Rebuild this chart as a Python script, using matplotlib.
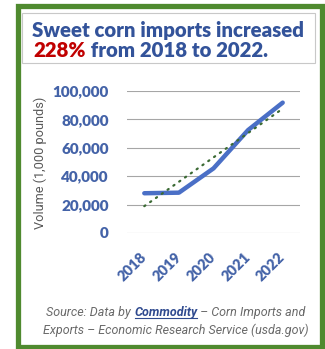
import matplotlib
matplotlib.use("Agg")
import matplotlib.pyplot as plt
import numpy as np
from matplotlib.patches import Rectangle
from matplotlib.lines import Line2D

years = ["2018", "2019", "2020", "2021", "2022"]
volumes = [28000, 28400, 45500, 72500, 91800]
yticks = [0, 20000, 40000, 60000, 80000, 100000]
ytick_labels = ["0", "20,000", "40,000", "60,000", "80,000", "100,000"]
title_line1 = "Sweet corn imports increased"
title_pct = "228%"
title_rest = " from 2018 to 2022."
ylabel = "Volume (1,000 pounds)"
src1a, src1b, src1c = "Source: Data by ", "Commodity", " – Corn Imports and"
src2 = "Exports – Economic Research Service (usda.gov)"

W, H = 325, 349
fig = plt.figure(figsize=(W / 100, H / 100), dpi=100)
fig.patch.set_facecolor("white")

def fx(px):
    return px / W

def fy(py):
    return 1 - py / H

# green frame
fig.patches.append(Rectangle((fx(18), fy(346.5)), fx(321.5) - fx(18), fy(5.5) - fy(346.5),
                             transform=fig.transFigure, fill=False,
                             edgecolor="#4f8a2f", linewidth=3.8, zorder=0))
# title box
fig.patches.append(Rectangle((fx(22), fy(63)), fx(315) - fx(22), fy(13) - fy(63),
                             transform=fig.transFigure, fill=False,
                             edgecolor="#c8c8c8", linewidth=0.8, zorder=0))

tblue = "#33539a"
tfont = "Lato"
tsize = 14.7
tw = "heavy"
fig.text(fx(32), fy(37), title_line1, fontsize=tsize, fontweight=tw, color=tblue,
         family=tfont, ha="left", va="baseline")
t_pct = fig.text(fx(33), fy(57), title_pct, fontsize=tsize, fontweight=tw, color="#c00000",
                 family=tfont, ha="left", va="baseline")
fig.canvas.draw()
r = fig.canvas.get_renderer()
bb = t_pct.get_window_extent(r)
fig.text(bb.x1 / W, fy(57), title_rest, fontsize=tsize, fontweight=tw, color=tblue,
         family=tfont, ha="left", va="baseline")

# axes
ax = fig.add_axes([fx(127), fy(233), fx(300) - fx(127), fy(91) - fy(233)])
x = np.arange(len(years))
ax.set_xlim(-0.5, len(years) - 0.5)
ax.set_ylim(0, 100000)
for yv in yticks:
    ax.axhline(yv, color="#a6a6a6", lw=0.8, zorder=1)
coef = np.polyfit(x, volumes, 1)
ax.plot(x, np.polyval(coef, x), color="#3b6a34", lw=1.6, ls=(0, (0.6, 2.6)),
        dash_capstyle="round", zorder=3)
ax.plot(x, volumes, color="#4a6fc6", lw=3.2, solid_capstyle="round",
        solid_joinstyle="round", zorder=2)
for s in ax.spines.values():
    s.set_visible(False)
ax.set_yticks(yticks)
ax.set_yticklabels(ytick_labels)
ax.set_xticks(x)
ax.set_xticklabels(years)
ax.tick_params(axis="both", length=0)
ax.tick_params(axis="y", pad=13)
ax.tick_params(axis="x", pad=16)
lblue = "#4463a8"
for t in ax.get_yticklabels():
    t.set_fontsize(11)
    t.set_fontweight("heavy")
    t.set_color(lblue)
    t.set_family(tfont)
for t in ax.get_xticklabels():
    t.set_fontsize(10.5)
    t.set_fontweight("heavy")
    t.set_color(lblue)
    t.set_family(tfont)
    t.set_rotation(45)
    t.set_rotation_mode("anchor")
    t.set_ha("right")
    t.set_va("center")
fig.text(fx(40), fy(163), ylabel, rotation=90, fontsize=9.2, color="#595959",
         family="Roboto", ha="center", va="center")

# source text
sfont = dict(family="Roboto", style="italic", fontsize=9.0)
gray = "#6a6a6a"
parts = [(src1a, gray, "normal"), (src1b, "#2f4a8f", "bold"), (src1c, gray, "normal")]
texts = []
for s, c, w in parts:
    texts.append(fig.text(0, fy(316), s, color=c, fontweight=w, ha="left", va="baseline", **sfont))
fig.canvas.draw()
widths = [t.get_window_extent(r).width for t in texts]
total = sum(widths)
xstart = 176 - total / 2
cur = xstart
for t, wdt in zip(texts, widths):
    t.set_x(cur / W)
    cur += wdt
# underline Commodity
u0 = xstart + widths[0]
u1 = u0 + widths[1]
fig.lines.append(Line2D([fx(u0 + 1), fx(u1)], [fy(318), fy(318)], transform=fig.transFigure,
                        color="#2f4a8f", lw=0.8))
fig.text(fx(176), fy(334), src2, color=gray, ha="center", va="baseline", **sfont)

fig.savefig("out.png", dpi=100, facecolor="white")
